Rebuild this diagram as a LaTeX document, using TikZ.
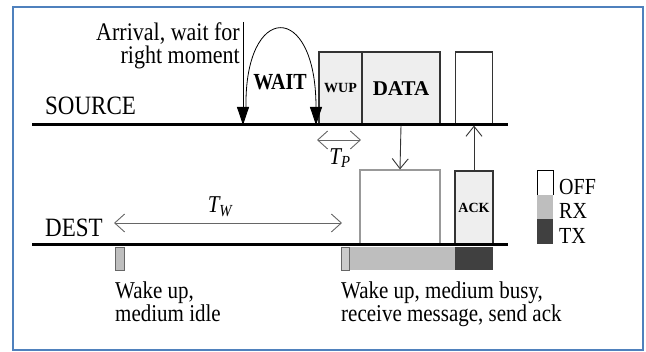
\documentclass[tikz,border=0pt]{standalone}
\usepackage{fontspec}
\setmainfont{Liberation Serif}
\usetikzlibrary{arrows.meta}

\definecolor{frameblue}{RGB}{79,129,189}
\definecolor{boxgray}{RGB}{238,238,238}
\definecolor{rxgray}{RGB}{190,190,190}
\definecolor{txgray}{RGB}{64,64,64}

\tikzset{
  txt/.style={inner sep=0pt, yscale=1.15, transform shape},
  pkt/.style={draw=black!80, line width=1.2pt, fill=boxgray, inner sep=0pt},
  chan/.style={line width=3pt},
  sig/.style={-{Straight Barb[length=10pt,width=16pt]}, black!80, line width=0.9pt},
  interval/.style={{Straight Barb[length=10pt,width=18pt]}-{Straight Barb[length=10pt,width=18pt]}, black!60, line width=0.9pt},
  event/.style={-{Triangle[length=18pt,width=12pt]}, line width=0.8pt},
}

\begin{document}
\begin{tikzpicture}[x=1pt, y=-1pt]
  \useasboundingbox (0,0) rectangle (646,352);
  % Frame
  \draw[frameblue, line width=2pt] (13,7) rectangle (643,350);
  % Channel ends
  \coordinate (srcL) at (32,125);
  \coordinate (srcR) at (508,125);
  \coordinate (dstL) at (32,245);
  \coordinate (dstR) at (508,245);
  \node[txt, anchor=base west, font=\fontsize{23}{26}\selectfont] (srclbl) at (45,115) {SOURCE};
  \node[txt, anchor=base west, font=\fontsize{23}{26}\selectfont] (dstlbl) at (45,237) {DEST};
  % Source packets
  \node[pkt, minimum width=43pt, minimum height=73pt, font=\bfseries\fontsize{14}{14}\selectfont] (wup) at (340.5,88.5) {WUP};
  \node[pkt, minimum width=78pt, minimum height=73pt, font=\bfseries\fontsize{21}{21}\selectfont] (data) at (401,88.5) {DATA};
  \node[pkt, fill=white, minimum width=37pt, minimum height=73pt] (acks) at (474,88.5) {};
  % Dest radio states
  \node[pkt, draw=black!40, fill=white, minimum width=80pt, minimum height=75pt] (rxbox) at (400,207.5) {};
  \node[pkt, minimum width=38pt, minimum height=74pt, font=\bfseries\fontsize{14}{14}\selectfont] (ackd) at (474,208) {ACK};
  % Channels
  \draw[chan] (srcL) -- (srcR);
  \draw[chan] (dstL) -- (dstR);
  % Wake-ups below dest
  \draw[draw=black!60, fill=rxgray, line width=0.8pt] (115,247) rectangle (124,270);
  \fill[rxgray] (349,247) rectangle (455,270);
  \fill[txgray] (455,247) rectangle (493,270);
  \draw[draw=black!60, fill=rxgray!80, line width=0.8pt] (341,247) rectangle (349,270);
  % Arrival and wait
  \coordinate (arrive) at (243,22);
  \coordinate (arriveE) at (243,125);
  \draw[event] (arrive) -- (arriveE);
  \coordinate (waitS) at (246,108);
  \coordinate (waitE) at (316,125);
  \draw[event] (waitS) .. controls (244,2) and (316,0) .. (waitE);
  \node[txt, font=\bfseries\fontsize{20}{20}\selectfont] (wait) at (280,82) {WAIT};
  \node[txt, anchor=east, align=right, font=\fontsize{22}{20.5}\selectfont] (arrtxt) at (240,46) {Arrival, wait for\\right moment};
  % Tp
  \coordinate (tpL) at (317,140);
  \coordinate (tpR) at (361,140);
  \draw[interval] (tpL) -- (tpR);
  \node[txt, font=\fontsize{21}{21}\selectfont] (tp) at (340,158) {\textit{T\textsubscript{P}}};
  % Data down, ack up
  \draw[sig] (data.south) -- (rxbox.north);
  \draw[sig] (ackd.north) -- (acks.south);
  % Tw
  \coordinate (twL) at (114,223);
  \coordinate (twR) at (342,223);
  \draw[interval] (twL) -- (twR);
  \node[txt, font=\fontsize{21}{21}\selectfont] (tw) at (220,207) {\textit{T\textsubscript{W}}};
  % Legend
  \fill[rxgray] (537,195) rectangle (553,219);
  \fill[txgray] (537,219) rectangle (553,244);
  \draw[line width=1pt] (537,195) -- (537,171) -- (553,171) -- (553,195);
  \node[txt, anchor=base west, font=\fontsize{20}{20}\selectfont] (offlbl) at (559,195) {OFF};
  \node[txt, anchor=base west, font=\fontsize{20}{20}\selectfont] (rxlbl) at (559,219) {RX};
  \node[txt, anchor=base west, font=\fontsize{20}{20}\selectfont] (txlbl) at (559,244) {TX};
  % Notes
  \node[txt, anchor=north west, align=left, font=\fontsize{21}{20}\selectfont] (idle) at (115,282) {Wake up,\\medium idle};
  \node[txt, anchor=north west, align=left, font=\fontsize{21}{20}\selectfont] (busy) at (341,282) {Wake up, medium busy,\\receive message, send ack};
\end{tikzpicture}
\end{document}
